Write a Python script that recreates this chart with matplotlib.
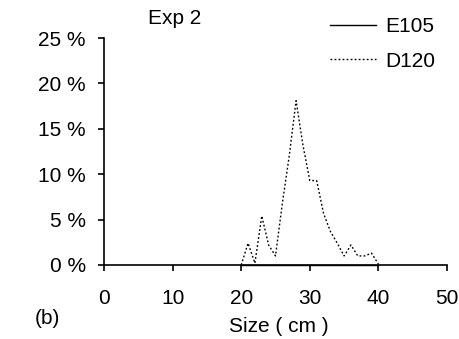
import matplotlib
matplotlib.use("Agg")
import matplotlib.pyplot as plt

plt.rcParams['font.family'] = ['Liberation Sans', 'DejaVu Sans']
plt.rcParams['font.size'] = 15

# size classes (cm) and percentage of individuals
size_e105 = [20, 25, 30, 35, 40]
pct_e105 = [0, 0, 0, 0, 0]

size_d120 = [20, 21, 22, 23, 24, 25, 26, 27, 28, 29, 30, 31, 32, 33, 34, 35, 36, 37, 38, 39, 40]
pct_d120 = [0, 2.4, 0.2, 5.4, 2.2, 1.0, 6.8, 12.0, 18.1, 13.2, 9.3, 9.3, 5.7, 3.7, 2.4, 1.0, 2.2, 1.0, 1.0, 1.3, 0.1]

yticks = [0, 5, 10, 15, 20, 25]
xticks = [0, 10, 20, 30, 40, 50]

fig = plt.figure(figsize=(4.6, 3.39), dpi=100)
ax = fig.add_axes([104/460, 1 - 265/339, 343/460, 227/339])

l1, = ax.plot(size_e105, pct_e105, color='black', lw=1, clip_on=False)
l2, = ax.plot(size_d120, pct_d120, color='black', lw=1, linestyle=(0, (1.3, 1.6)), clip_on=False)

ax.set_xlim(0, 50)
ax.set_ylim(0, 25)
ax.set_xticks(xticks)
ax.set_yticks(yticks)
ax.set_yticklabels([f"{v} %" for v in yticks])
ax.spines['top'].set_visible(False)
ax.spines['right'].set_visible(False)
ax.spines['left'].set_linewidth(1.2)
ax.spines['bottom'].set_linewidth(1.2)
ax.tick_params(axis='x', direction='out', length=4, width=1.2, pad=13)
ax.tick_params(axis='y', direction='out', length=4, width=1.2, pad=9)

fig.text(279/460, 1 - 326/339, "Size ( cm )", ha='center', va='center')
fig.text(175/460, 1 - 18/339, "Exp 2", ha='center', va='center')
fig.text(47/460, 1 - 318/339, "(b)", ha='center', va='center')

fig.legend([l1, l2], ["E105", "D120"], loc='upper left',
           bbox_to_anchor=(330/460, 1 - 17/339), frameon=False,
           borderpad=0, borderaxespad=0, handlelength=2.2,
           handletextpad=0.45, labelspacing=0.75, fontsize=15)

fig.savefig("out.png", dpi=100)
